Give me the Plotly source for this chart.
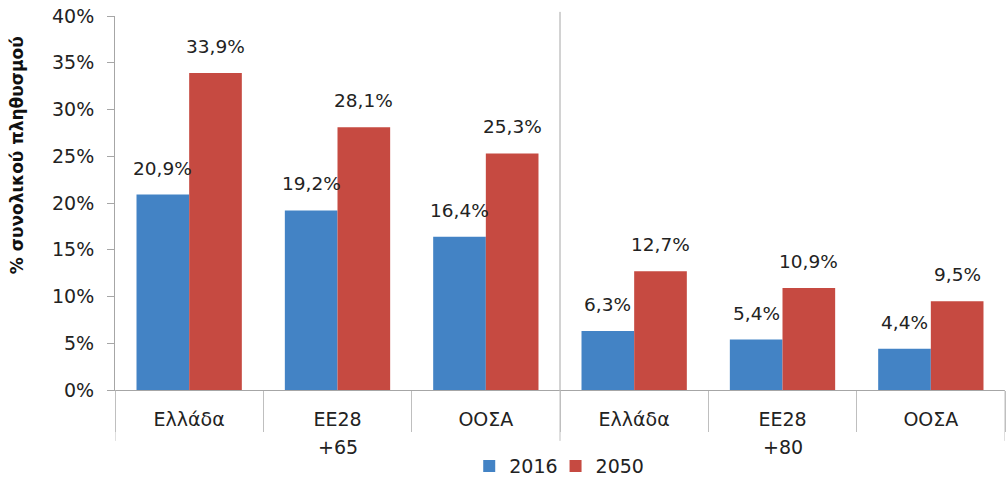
import plotly.graph_objects as go

groups = ["+65", "+65", "+65", "+80", "+80", "+80"]
regions = ["Ελλάδα", "ΕΕ28", "ΟΟΣΑ", "Ελλάδα", "ΕΕ28", "ΟΟΣΑ"]
v2016 = [20.9, 19.2, 16.4, 6.3, 5.4, 4.4]
v2050 = [33.9, 28.1, 25.3, 12.7, 10.9, 9.5]
series = [("2016", v2016, "#4383c5", "legend"), ("2050", v2050, "#c64a41", "legend2")]

FONT = "DejaVu Sans"
FS = 19
BARGAP = 0.29
GRAY = "#bfbfbf"

idx = list(range(len(regions)))
bounds = [i - 0.5 for i in range(len(regions) + 1)]

fig = go.Figure()
half = (1 - BARGAP) / 4
for k, (name, vals, col, leg) in enumerate(series):
    fig.add_trace(go.Bar(
        x=idx, y=vals, name=name, legend=leg,
        marker=dict(color=col, line=dict(width=0)),
    ))
    off = -half if k == 0 else half
    for i, v in zip(idx, vals):
        fig.add_annotation(x=i + off, y=v, xref="x", yref="y",
                           text=f"{v:.1f}%".replace(".", ","), showarrow=False,
                           yanchor="bottom", yshift=14,
                           font=dict(family=FONT, size=18.5, color="#222"))

# group labels and long group dividers
ugroups = list(dict.fromkeys(groups))
for g in ugroups:
    members = [i for i, gg in zip(idx, groups) if gg == g]
    fig.add_annotation(x=sum(members) / len(members), y=-0.152, xref="x", yref="paper",
                       text=g, showarrow=False, yanchor="middle",
                       font=dict(family=FONT, size=FS, color="#222"))
    fig.add_shape(type="line", xref="x", yref="paper", x0=members[0] - 0.5,
                  x1=members[0] - 0.5, y0=-0.136, y1=0, line=dict(color=GRAY, width=1))
fig.add_shape(type="line", xref="x", yref="paper", x0=bounds[-1], x1=bounds[-1],
              y0=-0.136, y1=0, line=dict(color=GRAY, width=1))
fig.add_shape(type="line", xref="x", yref="paper", x0=bounds[3], x1=bounds[3],
              y0=0, y1=1.011, line=dict(color="#a6a6a6", width=1))

fig.add_annotation(xref="paper", yref="paper", x=-0.110, y=0.628, textangle=-90,
                   text="<b>% συνολικού πληθυσμού</b>", showarrow=False,
                   xanchor="center", yanchor="middle",
                   font=dict(family=FONT, size=17, color="#111"))

legend_common = dict(orientation="h", xanchor="left", y=-0.2033, yanchor="middle",
                     font=dict(family=FONT, size=FS, color="#222"), itemwidth=30,
                     tracegroupgap=0, bgcolor="rgba(0,0,0,0)")

fig.update_layout(
    width=1007, height=477,
    margin=dict(l=115, r=2, t=16, b=87, autoexpand=False),
    paper_bgcolor="white", plot_bgcolor="rgba(0,0,0,0)",
    barmode="group", bargap=BARGAP, bargroupgap=0,
    font=dict(family=FONT, size=FS, color="#222"),
    showlegend=True,
    legend=dict(x=0.398, **legend_common),
    legend2=dict(x=0.495, **legend_common),
    xaxis=dict(range=[bounds[0], bounds[-1]], tickmode="array", tickvals=idx,
               ticktext=regions, ticks="", showline=True, linecolor="#a6a6a6",
               linewidth=1, ticklabelstandoff=12, automargin=False, zeroline=False,
               minor=dict(tickmode="array", tickvals=bounds, ticks="outside",
                          ticklen=41, tickcolor=GRAY, tickwidth=1, showgrid=False),
               tickfont=dict(family=FONT, size=FS, color="#222"), showgrid=False),
    yaxis=dict(range=[0, 40], dtick=5, ticksuffix="%", showgrid=False, zeroline=False,
               showline=True, linecolor="#a6a6a6", linewidth=1, ticks="outside",
               ticklen=7, tickcolor="#a6a6a6", ticklabelstandoff=9, automargin=False,
               ticklabeloverflow="allow",
               tickfont=dict(family=FONT, size=FS, color="#222")),
)

fig.write_html("out.html", config={"displayModeBar": False},
               post_script="document.body.style.margin='0';")
